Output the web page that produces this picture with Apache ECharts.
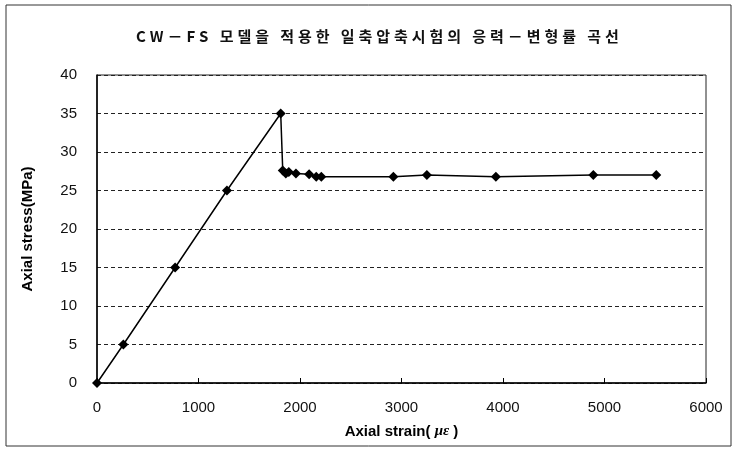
<!DOCTYPE html>
<html>
<head>
<meta charset="utf-8">
<script src="https://cdn.jsdelivr.net/npm/echarts@6/dist/echarts.min.js"></script>
<style>html,body{margin:0;padding:0;background:#fff;}#c{width:737px;height:452px;}</style>
</head>
<body>
<div id="c"></div>
<script>
var titleText = 'CW－FS 모델을 적용한 일축압축시험의 응력－변형률 곡선';
var xTitleLead = 'Axial strain( ';
var xTitleUnit = 'με';
var xTitleTail = ' )';
var yTitle = 'Axial stress(MPa)';
var strain = [0, 260, 770, 1280, 1810, 1830, 1860, 1890, 1960, 2090, 2160, 2210, 2920, 3250, 3930, 4890, 5510];
var stress = [0, 5, 15, 25, 35, 27.6, 27.2, 27.4, 27.2, 27.1, 26.8, 26.8, 26.8, 27.0, 26.8, 27.0, 27.0];
var xTicks = [0, 1000, 2000, 3000, 4000, 5000, 6000];
var yTicks = [0, 5, 10, 15, 20, 25, 30, 35, 40];

var data = strain.map(function (s, i) { return [s, stress[i]]; });
var spaced = titleText.split('').join('\u2009\u200A');

var chart = echarts.init(document.getElementById('c'), null, {renderer: 'canvas'});
chart.setOption({
  backgroundColor: '#fff',
  animation: false,
  title: {
    text: spaced,
    left: 131,
    top: 24,
    textStyle: {fontFamily: 'Noto Sans CJK KR', fontSize: 15, fontWeight: 'bold', color: '#111'}
  },
  graphic: [{
    type: 'rect', shape: {x: 6, y: 5, width: 725, height: 441},
    style: {fill: 'none', stroke: '#333', lineWidth: 1}, silent: true
  }],
  grid: {left: 97, top: 75, width: 609, height: 308, show: true, borderColor: '#222', borderWidth: 1, backgroundColor: 'transparent'},
  xAxis: {
    type: 'value', min: xTicks[0], max: xTicks[xTicks.length - 1], interval: 1000,
    name: xTitleLead + '{i|' + xTitleUnit + '}' + xTitleTail, nameLocation: 'middle', nameGap: 41,
    nameTextStyle: {fontFamily: 'Liberation Sans', fontSize: 15, fontWeight: 'bold', color: '#000',
      rich: {i: {fontFamily: 'Liberation Serif', fontStyle: 'italic', fontSize: 15, color: '#000'}}},
    axisLine: {show: true, lineStyle: {color: '#000', width: 1.5}},
    axisTick: {show: true, inside: true, length: 5, lineStyle: {color: '#000'}},
    axisLabel: {fontFamily: 'Liberation Sans', fontSize: 15, color: '#111', margin: 17,
      formatter: function (v) { return String(v); }},
    splitLine: {show: false}
  },
  yAxis: {
    type: 'value', min: yTicks[0], max: yTicks[yTicks.length - 1], interval: 5,
    name: yTitle, nameLocation: 'middle', nameGap: 62,
    nameTextStyle: {fontFamily: 'Liberation Sans', fontSize: 15, fontWeight: 'bold', color: '#000'},
    axisLine: {show: true, lineStyle: {color: '#000', width: 1.5}},
    axisTick: {show: false},
    axisLabel: {fontFamily: 'Liberation Sans', fontSize: 15, color: '#111', margin: 20},
    splitLine: {show: true, lineStyle: {color: '#222', type: [4, 3], width: 1}}
  },
  series: [{
    type: 'line',
    data: data,
    symbol: 'diamond',
    symbolSize: 10,
    itemStyle: {color: '#000'},
    lineStyle: {color: '#000', width: 1.5},
    z: 5
  }]
});
</script>
</body>
</html>
